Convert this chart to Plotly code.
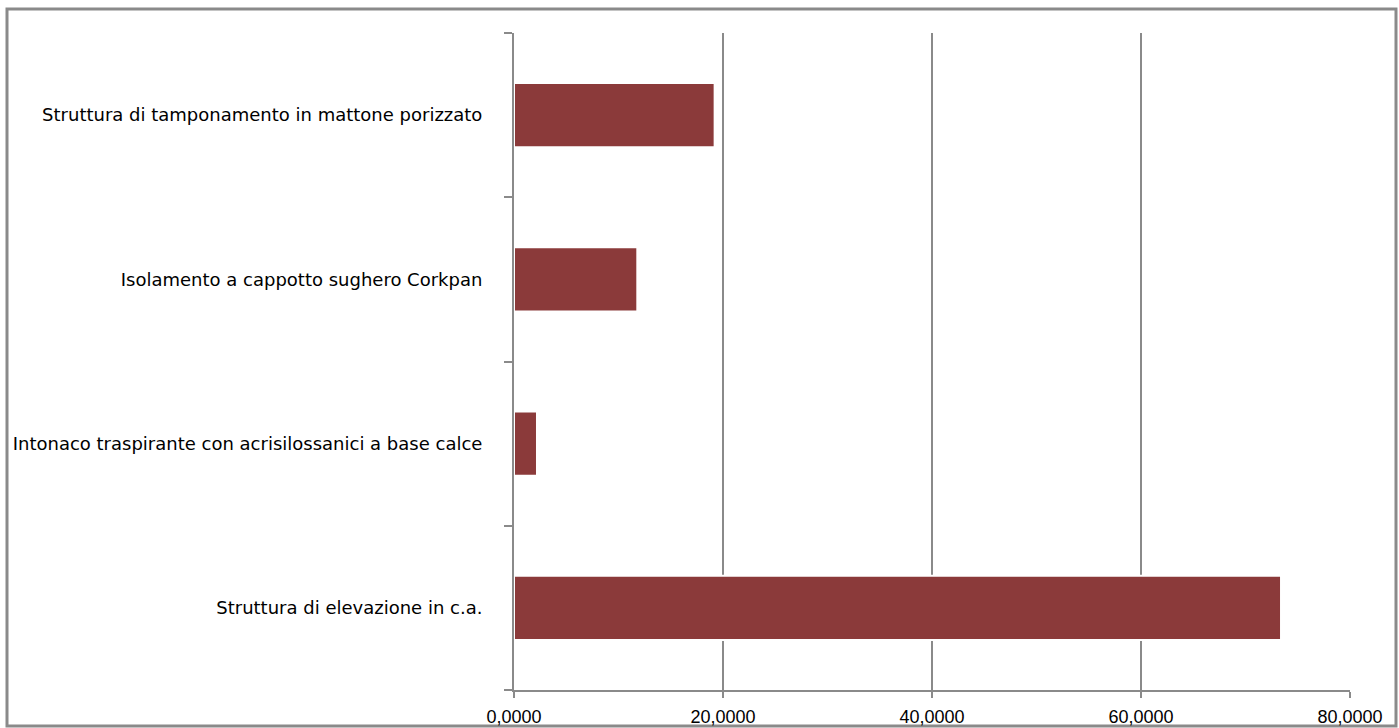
import plotly.graph_objects as go

categories = [
    "Struttura di elevazione in c.a.",
    "Intonaco traspirante con acrisilossanici a base calce",
    "Isolamento a cappotto sughero Corkpan",
    "Struttura di tamponamento in mattone porizzato",
]
values = [73.4, 2.2, 11.8, 19.2]
x_ticks = [0, 20, 40, 60, 80]

W, H = 1399, 728
L, R, T, B = 514, 49, 33, 38
pw, ph = W - L - R, H - T - B

fig = go.Figure()
fig.add_trace(go.Bar(
    y=categories, x=values, orientation="h",
    marker=dict(color="#8B3A3A", line=dict(color="white", width=2)),
    width=0.39,
))

fig.update_layout(
    width=W, height=H,
    margin=dict(l=L, r=R, t=T, b=B, autoexpand=False),
    paper_bgcolor="white", plot_bgcolor="white",
    separators=",.",
    showlegend=False,
    font=dict(family="DejaVu Sans", color="black", size=15),
    shapes=[dict(
        type="rect", xref="paper", yref="paper",
        x0=(7 - L) / pw, x1=(1396 - L) / pw,
        y0=(T + ph - 726) / ph, y1=(T + ph - 9) / ph,
        line=dict(color="#8a8a8a", width=3), layer="below",
    )],
)
fig.update_xaxes(
    range=[0, 80], tickvals=x_ticks, tickformat=".4f",
    showgrid=True, gridcolor="#8a8a8a", gridwidth=2,
    showline=True, linecolor="#8a8a8a", linewidth=2,
    ticks="outside", ticklen=6, tickwidth=2, tickcolor="#8a8a8a",
    zeroline=False, ticklabelstandoff=3, automargin=False,
    tickfont=dict(family="Liberation Sans", size=18),
)
fig.update_yaxes(
    type="category", range=[-0.5, 3.5],
    showline=True, linecolor="#8a8a8a", linewidth=2,
    ticks="outside", ticklen=8, tickwidth=2, tickcolor="#8a8a8a",
    tickson="boundaries", showgrid=False, ticklabelstandoff=26,
    automargin=False,
    tickfont=dict(family="DejaVu Sans", size=18),
)

fig.write_html(
    "out.html",
    config={"displayModeBar": False},
    post_script="document.body.style.margin='0';document.body.style.overflow='hidden';",
)
